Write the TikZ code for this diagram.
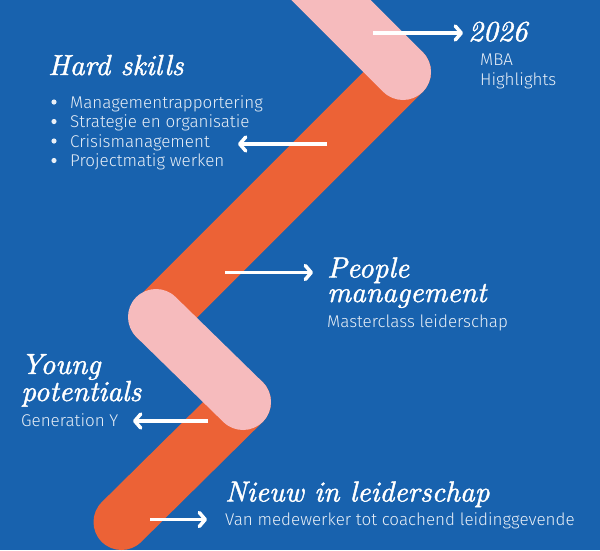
\documentclass[tikz,border=0pt]{standalone}
\usepackage{fontspec}
\setsansfont{Fira Sans}[UprightFont=* Light]
\newfontface\headfont{lmroman10-italic}[Extension=.otf,FakeBold=1.5]
\usetikzlibrary{arrows.meta}
\definecolor{bg}{HTML}{1862AE}
\definecolor{band}{HTML}{EC6236}
\definecolor{rose}{HTML}{F6BBBD}
\begin{document}
\begin{tikzpicture}[x=1pt,y=-1pt,
    head/.style={text=white,inner sep=0pt,anchor=base west,align=left,font=\headfont\fontsize{29}{24.5}\selectfont},
    sub/.style={text=white!90!bg,inner sep=0pt,anchor=base west,font=\sffamily\fontsize{17}{19}\selectfont},
    arr/.style={white,line width=3.5pt,-{Straight Barb[round,length=6pt,width=14pt]}},
    strip/.style={line width=56pt,line cap=round}]
    \useasboundingbox (0,0) rectangle (600,550);
    \clip (0,0) rectangle (600,550);
    \fill[bg] (0,0) rectangle (600,550);
    \draw[strip,band] (121.5,522) -- (243,402);
    \draw[strip,band] (157,318) -- (403,72);
    \draw[strip,rose] (156,317) -- (243,402);
    \draw[strip,rose] (403,72) -- (290,-41);
    \path (468,41) node[head] (y2026) {2026};
    \path (480,65) node[sub] (mba) {MBA};
    \path (480,85) node[sub] (hl) {Highlights};
    \path (48,75) node[head] (hard) {Hard skills};
    \foreach \t [count=\i] in {Managementrapportering,Strategie en organisatie,Crisismanagement,Projectmatig werken}{
        \path (70,{88.5+19.5*\i}) node[sub] (skill\i) {\t};
        \fill[white!90!bg] (54,{82.5+19.5*\i}) circle (2.6pt);
    }
    \path (327,302) node[head] (people) {People\\management};
    \path (327,327) node[sub] (mclass) {Masterclass leiderschap};
    \path (21,401) node[head] (young) {Young\\potentials};
    \path (21,426.5) node[sub] (geny) {Generation Y};
    \path (225,501.5) node[head] (nieuw) {Nieuw in leiderschap};
    \path (225,525) node[sub] (van) {Van medewerker tot coachend leidinggevende};
    \path (373,33) coordinate (a1) (463,33) coordinate (b1);
    \path (327,144) coordinate (a2) (238,144) coordinate (b2);
    \path (225,272.5) coordinate (a3) (313,272.5) coordinate (b3);
    \path (208,421) coordinate (a4) (133,421) coordinate (b4);
    \path (150,519.5) coordinate (a5) (207,519.5) coordinate (b5);
    \foreach \i in {1,...,5} \draw[arr] (a\i) -- (b\i);
\end{tikzpicture}
\end{document}
